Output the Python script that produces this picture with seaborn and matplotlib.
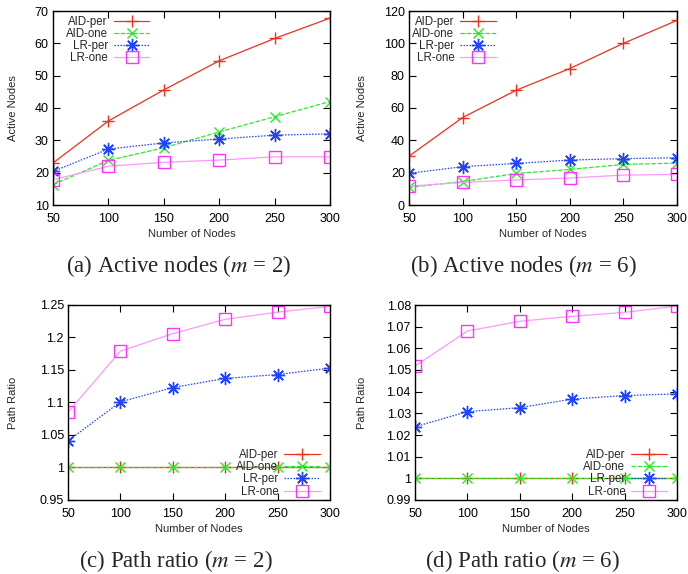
import matplotlib
matplotlib.use("Agg")
import matplotlib.pyplot as plt
import seaborn as sns
import numpy as np
from matplotlib.ticker import FuncFormatter

# ---------------- data ----------------
nodes = [50, 100, 150, 200, 250, 300]
series_names = ["AID-per", "AID-one", "LR-per", "LR-one"]

# (a) Active nodes, m = 2
a_aid_per = [23.0, 36.0, 45.6, 54.6, 61.5, 67.8]
a_aid_one = [16.3, 23.8, 27.7, 32.6, 37.3, 42.0]
a_lr_per = [20.4, 27.3, 29.2, 30.4, 31.6, 32.0]
a_lr_one = [17.8, 22.0, 23.2, 23.9, 24.9, 24.9]

# (b) Active nodes, m = 6
b_aid_per = [30.2, 54.1, 71.0, 84.4, 100.0, 114.2]
b_aid_one = [10.9, 14.5, 19.5, 22.0, 25.1, 25.9]
b_lr_per = [19.6, 23.7, 25.7, 27.8, 28.7, 29.2]
b_lr_one = [11.6, 14.0, 15.5, 16.7, 18.5, 18.9]

# (c) Path ratio, m = 2
c_aid_per = [1.0, 1.0, 1.0, 1.0, 1.0, 1.0]
c_aid_one = [1.0, 1.0, 1.0, 1.0, 1.0, 1.0]
c_lr_per = [1.041, 1.101, 1.123, 1.137, 1.143, 1.153]
c_lr_one = [1.085, 1.179, 1.206, 1.228, 1.239, 1.248]

# (d) Path ratio, m = 6
d_aid_per = [1.0, 1.0, 1.0, 1.0, 1.0, 1.0]
d_aid_one = [1.0, 1.0, 1.0, 1.0, 1.0, 1.0]
d_lr_per = [1.0238, 1.0308, 1.0326, 1.0366, 1.0382, 1.0390]
d_lr_one = [1.0518, 1.0680, 1.0725, 1.0748, 1.0766, 1.0795]

captions = ["(a) Active nodes ($m$ = 2)", "(b) Active nodes ($m$ = 6)",
            "(c) Path ratio ($m$ = 2)", "(d) Path ratio ($m$ = 6)"]
ylabels = ["Active Nodes", "Active Nodes", "Path Ratio", "Path Ratio"]
xlabel = "Number of Nodes"

# ---------------- style ----------------
sns.set_style("ticks")
plt.rcParams["font.family"] = ["Liberation Sans", "DejaVu Sans"]
plt.rcParams["mathtext.fontset"] = "stix"

W, H = 688, 574
fig = plt.figure(figsize=(W / 100, H / 100), dpi=100)


def px_axes(l, t, r, b):
    return fig.add_axes([l / W, 1 - b / H, (r - l) / W, (b - t) / H])


styles = [
    dict(color="#f2301e", linestyle="-", marker="+", markersize=9, mec="#f2301e", mfc="none", mew=1.0),
    dict(color="#22ee22", linestyle=(0, (3.5, 1.5)), marker="x", markersize=7.5, mec="#22ee22", mfc="none", mew=1.0),
    dict(color="#2244ff", linestyle=(0, (1.2, 1.2)), marker=(8, 2, 0), markersize=9.5, mec="#2244ff", mfc="none", mew=1.0),
    dict(color="#ff99ff", linestyle="-", marker="s", markersize=8, mec="#ff33ff", mfc="none", mew=1.0),
]

panels = [
    dict(box=(53, 11, 330, 205), data=[a_aid_per, a_aid_one, a_lr_per, a_lr_one],
         ylim=(10, 70), yticks=np.arange(10, 71, 10), ylab_x=18, legend="upper left", lx=0.03),
    dict(box=(409, 11, 677, 205), data=[b_aid_per, b_aid_one, b_lr_per, b_lr_one],
         ylim=(0, 120), yticks=np.arange(0, 121, 20), ylab_x=367, legend="upper left", lx=-0.005),
    dict(box=(68, 305, 330, 500), data=[c_aid_per, c_aid_one, c_lr_per, c_lr_one],
         ylim=(0.95, 1.25), yticks=np.linspace(0.95, 1.25, 7), ylab_x=18, legend="lower right", lx=0.97),
    dict(box=(415, 305, 677, 500), data=[d_aid_per, d_aid_one, d_lr_per, d_lr_one],
         ylim=(0.99, 1.08), yticks=np.linspace(0.99, 1.08, 10), ylab_x=367, legend="lower right", lx=0.97),
]
caption_pos = [(179, 266), (523, 266), (176, 561), (522, 561)]

for i, p in enumerate(panels):
    l, t, r, b = p["box"]
    ax = px_axes(l, t, r, b)
    for name, vals, st in zip(series_names, p["data"], styles):
        sns.lineplot(x=nodes, y=vals, ax=ax, label=name, linewidth=0.9,
                     color=st["color"], linestyle=st["linestyle"], marker=st["marker"],
                     markersize=st["markersize"], markeredgecolor=st["mec"],
                     markerfacecolor=st["mfc"], markeredgewidth=st["mew"])
    ax.set_xlim(50, 300)
    ax.set_ylim(*p["ylim"])
    ax.set_xticks(nodes)
    ax.set_yticks(p["yticks"])
    ax.yaxis.set_major_formatter(FuncFormatter(lambda v, pos: "%g" % round(v, 4)))
    ax.tick_params(direction="in", top=True, right=True, length=5, width=0.8,
                   labelsize=9, colors="black")
    ax.tick_params(axis="x", pad=5.5)
    ax.tick_params(axis="y", pad=3)
    for s in ax.spines.values():
        s.set_linewidth(1.0)
        s.set_color("black")
    ax.set_xlabel(xlabel, fontsize=8)
    ax.set_ylabel(ylabels[i], fontsize=8)
    ax.xaxis.set_label_coords(0.5, -0.122)
    ax.yaxis.set_label_coords((p["ylab_x"] - l) / (r - l), 0.5)

    if p["legend"] == "upper left":
        leg = ax.legend(loc="upper left", frameon=False, markerfirst=False, fontsize=8.3,
                        handlelength=3.1, handletextpad=0.5, labelspacing=0.0,
                        borderaxespad=0.2, borderpad=0.2,
                        bbox_to_anchor=(p["lx"], 1.0))
    else:
        leg = ax.legend(loc="lower right", frameon=False, markerfirst=False, fontsize=8.3,
                        handlelength=3.1, handletextpad=0.5, labelspacing=0.02,
                        borderaxespad=0.0, borderpad=0.2, bbox_to_anchor=(p["lx"], 0.0))
    for col in leg._legend_handle_box.get_children():
        col.align = "right"

    cx, cy = caption_pos[i]
    fig.text(cx / W, 1 - cy / H, captions[i], ha="center", va="center",
             fontsize=16.5, family=["Liberation Serif", "DejaVu Serif"])

fig.savefig("out.png", dpi=100)
